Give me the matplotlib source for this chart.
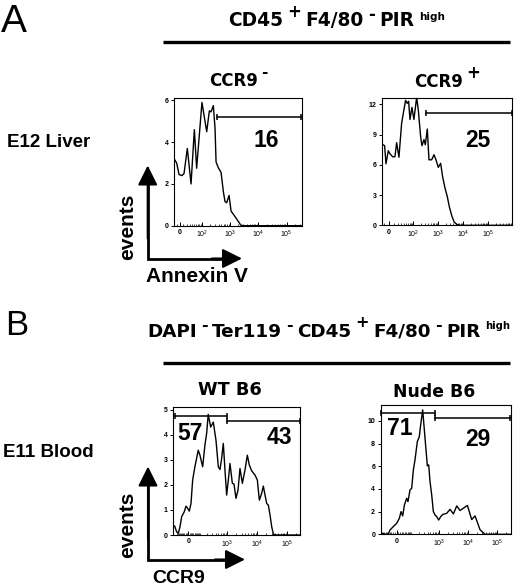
import matplotlib
matplotlib.use("Agg")
import matplotlib.pyplot as plt
from matplotlib.ticker import NullFormatter

plt.rcParams['font.family'] = ['Liberation Sans', 'DejaVu Sans']
plt.rcParams['mathtext.fontset'] = 'custom'
plt.rcParams['mathtext.rm'] = 'Liberation Sans'
plt.rcParams['mathtext.it'] = 'Liberation Sans'
plt.rcParams['mathtext.bf'] = 'Liberation Sans:bold'

# ---- histogram traces (fluorescence value, events) ----
# A: E12 liver, Annexin V, CCR9-
ccr9neg_x = [-17, -9.6, -2.8, 5.7, 11.6, 22, 35.7, 50.6, 63, 101, 151, 188, 216, 261, 300,
             326, 394, 490, 592, 677, 776, 938, 1105, 1410, 1850, 2420, 3010, 343000]
ccr9neg_y = [3.2, 3.0, 2.45, 2.4, 2.5, 3.7, 2.0, 4.6, 2.75, 5.9, 4.5, 5.5, 5.45, 5.75, 4.65,
             3.05, 2.77, 2.55, 1.62, 1.15, 1.1, 1.45, 0.7, 0.5, 0.27, 0.03, 0, 0]

# A: E12 liver, Annexin V, CCR9+
ccr9pos_x = [-13, -8.8, -6.0, -1.3, 2.0, 7.4, 12.5, 16.5, 22.7, 31.1, 37.4, 47.3, 56, 64, 73,
             88, 106, 137, 160, 198, 224, 270, 305, 367, 428, 548, 680, 815, 1010, 1253,
             1508, 1868, 2314, 2782, 3449, 4276, 5470, 7440, 918000]
ccr9pos_y = [8.0, 7.9, 6.1, 7.4, 7.1, 6.8, 6.8, 8.2, 6.75, 10.1, 11.1, 12.4, 12.1, 12.3, 10.5,
             11.7, 10.5, 12.7, 11.4, 8.8, 7.9, 8.5, 8.0, 9.55, 6.5, 6.5, 7.0, 6.5, 5.75, 6.15,
             4.8, 3.7, 2.85, 1.85, 1.0, 0.35, 0.1, 0, 0]

# B: E11 blood, CCR9, WT B6
wt_x = [-142, -125, -102, -84, -68, -53, -31, -18, -8, 8, 21, 34, 53, 68, 84, 102, 134,
        165, 192, 220, 269, 333, 412, 495, 564, 642, 730, 831, 945, 1075, 1222, 1465,
        1664, 1940, 2265, 2635, 3160, 3870, 4630, 5390, 6460, 8340, 9980, 11640, 13900,
        15800, 18000, 20400, 23200, 26400, 30000, 34100, 38800, 263000]
wt_y = [0.33, 0.36, 0.13, 0.07, 0.33, 0.73, 0.93, 1.15, 1.09, 0.95, 1.26, 2.19, 2.72, 3.05,
        3.38, 3.18, 2.72, 3.58, 4.05, 4.81, 4.3, 4.5, 3.78, 2.72, 2.61, 3.05, 3.65, 2.59,
        1.59, 2.19, 2.85, 2.06, 2.03, 1.46, 1.79, 2.65, 2.06, 2.59, 3.18, 2.79, 2.56, 2.39,
        2.19, 1.39, 1.66, 1.95, 1.59, 1.26, 1.19, 0.8, 0.33, 0.04, 0, 0]

# B: E11 blood, CCR9, Nude B6
nude_x = [-115, -89, -67, -50, -39, -19, 0, 15, 25, 35, 46, 62, 72, 89, 105, 123, 142, 174,
          205, 230, 271, 310, 355, 395, 440, 489, 559, 638, 728, 830, 973, 1140, 1335, 1830,
          2380, 3100, 4030, 5240, 6810, 9340, 13130, 17100, 25350, 37600, 284000]
nude_y = [0.09, 0.03, 0, 0.03, 0.38, 0.68, 0.97, 1.41, 2.0, 1.62, 2.59, 3.18, 2.88, 3.91,
          4.06, 5.68, 6.56, 8.18, 8.6, 9.65, 10.97, 9.2, 7.44, 6.03, 6.12, 4.65, 3.47, 2.0,
          1.71, 1.56, 1.26, 1.56, 1.75, 1.85, 2.2, 1.8, 2.5, 2.1, 2.3, 2.55, 1.3, 1.62, 0.4,
          0, 0]

# gate bars (start, end, height) and gate percentages
ccr9neg_gates = [(344, 330000, 5.2)]
ccr9pos_gates = [(325, 900000, 11.1)]
wt_gates = [(-125, 945, 4.73), (945, 255000, 4.55)]
nude_gates = [(-108, 728, 10.68), (728, 275000, 10.29)]
ccr9neg_pct = [('16', 20000, 4.1)]
ccr9pos_pct = [('25', 40000, 8.46)]
wt_pct = [('57', 13, 4.05), ('43', 54000, 3.89)]
nude_pct = [('71', 15, 9.35), ('29', 22200, 8.38)]

dec_ticks_a = [0, 1e2, 1e3, 1e4, 1e5]
dec_labels_a = ['0', '$10^2$', '$10^3$', '$10^4$', '$10^5$']
dec_ticks_b = [0, 1e3, 1e4, 1e5]
dec_labels_b = ['0', '$10^3$', '$10^4$', '$10^5$']

fig = plt.figure(figsize=(5.2, 5.86), dpi=100)
ov = fig.add_axes([0, 0, 1, 1])
ov.set_xlim(0, 520)
ov.set_ylim(586, 0)
ov.axis('off')


def hist_panel(rect, x, y, lin_w, xlim, ylim, yticks, xticks, xlabels, gates, pcts):
    ax = fig.add_axes(rect)
    ax.plot(x, y, color='k', lw=1.0)
    ax.set_xscale('asinh', linear_width=lin_w)
    ax.set_xlim(xlim)
    ax.set_ylim(ylim)
    ax.set_xticks(xticks)
    ax.set_xticklabels(xlabels)
    minor = [m * 10 ** e for e in range(1, 6) for m in range(1, 10)]
    minor = [v for v in minor + [-v for v in minor]
             if xlim[0] < v < xlim[1] and v not in xticks]
    ax.set_xticks(minor, minor=True)
    ax.xaxis.set_minor_formatter(NullFormatter())
    ax.set_yticks(yticks)
    ax.tick_params(axis='x', which='major', direction='in', length=3, width=0.7,
                   labelsize=5, pad=2.5)
    ax.tick_params(axis='x', which='minor', direction='in', length=1.5, width=0.5)
    ax.tick_params(axis='y', direction='out', length=2.5, width=0.7, labelsize=5, pad=1.5)
    for lab in ax.get_xticklabels() + ax.get_yticklabels():
        lab.set_fontweight('bold')
    for sp in ax.spines.values():
        sp.set_linewidth(0.8)
    for x0, x1, gy in gates:
        ax.plot([x0, x1], [gy, gy], color='k', lw=1.1, marker='|', ms=4.5, mew=1.1,
                clip_on=False)
    for s, px, py in pcts:
        ax.text(px, py, s, fontsize=16.5, fontweight='bold', ha='center', va='center')
    return ax


hist_panel([174 / 520, 1 - 225.7 / 586, 127.7 / 520, 127.4 / 586], ccr9neg_x, ccr9neg_y,
           35, (-17.8, 343000), (0, 6.1), [0, 2, 4, 6], dec_ticks_a, dec_labels_a,
           ccr9neg_gates, ccr9neg_pct)
hist_panel([382.3 / 520, 1 - 225.3 / 586, 130 / 520, 127.3 / 586], ccr9pos_x, ccr9pos_y,
           21.5, (-14, 918000), (0, 12.63), [0, 3, 6, 9, 12], dec_ticks_a, dec_labels_a,
           ccr9pos_gates, ccr9pos_pct)
hist_panel([173.3 / 520, 1 - 535 / 586, 126.7 / 520, 127.7 / 586], wt_x, wt_y,
           100, (-142, 263000), (0, 5.09), [0, 1, 2, 3, 4, 5], dec_ticks_b, dec_labels_b,
           wt_gates, wt_pct)
hist_panel([380.7 / 520, 1 - 534.3 / 586, 130 / 520, 129.3 / 586], nude_x, nude_y,
           71, (-115, 284000), (0, 11.4), [0, 2, 4, 6, 8, 10], dec_ticks_b, dec_labels_b,
           nude_gates, nude_pct)

renderer = fig.canvas.get_renderer()


def rich(parts, x, y, center=False, gap=4.0):
    # parts: (text, size, rise in px); laid out left to right on a shared baseline
    texts = []
    for s, size, rise in parts:
        t = ov.text(0, y - rise, s, fontsize=size, fontweight='bold',
                    family='DejaVu Sans', ha='left', va='baseline')
        texts.append((t, t.get_window_extent(renderer).width))
    total = sum(w for _, w in texts) + gap * (len(texts) - 1)
    cur = x - total / 2 if center else x
    for t, w in texts:
        t.set_x(cur)
        cur += w + gap


# panel letters, headers and bars
ov.text(1, 32, 'A', fontsize=28, ha='left', va='baseline')
ov.text(5, 335, 'B', fontsize=25, ha='left', va='baseline')
rich([('CD45', 13.4, 0), ('+', 12, 9), ('F4/80', 13.4, 0), ('-', 12, 6),
      ('PIR', 13.4, 0), ('high', 7.5, 6)], 228, 26, gap=4.4)
rich([('DAPI', 13.2, 0), ('-', 11.5, 7), ('Ter119', 13.2, 0), ('-', 11.5, 7),
      ('CD45', 13.2, 0), ('+', 11.5, 10), ('F4/80', 13.2, 0), ('-', 11.5, 7),
      ('PIR', 13.2, 0), ('high', 7.2, 7.5)], 147, 336.7, gap=4.3)
ov.plot([163, 510], [42.3, 42.3], color='k', lw=2.4, solid_capstyle='butt')
ov.plot([163, 510], [363.3, 363.3], color='k', lw=2.4, solid_capstyle='butt')

# column titles
rich([('CCR9', 12, 0), ('-', 11, 9)], 238, 86.5, center=True, gap=3)
rich([('CCR9', 12, 0), ('+', 12, 9)], 447, 86.7, center=True, gap=3)
ov.text(230, 395, 'WT B6', fontsize=12.8, fontweight='bold', family='DejaVu Sans',
        ha='center', va='baseline')
ov.text(434, 397, 'Nude B6', fontsize=12.4, fontweight='bold', family='DejaVu Sans',
        ha='center', va='baseline')

# row labels
ov.text(7, 147, 'E12 Liver', fontsize=13.5, fontweight='bold', ha='left', va='baseline')
ov.text(3, 457, 'E11 Blood', fontsize=13.5, fontweight='bold', ha='left', va='baseline')


def axis_arrows(cx, cy, top, right, xlab, xlab_x, xlab_y, xlab_size, ev_y):
    ov.plot([cx, cx, right - 12], [top + 12, cy, cy], color='k', lw=2,
            solid_joinstyle='miter', solid_capstyle='butt')
    style = dict(arrowstyle='-|>,head_length=1.2,head_width=0.6', lw=1.5, color='k',
                 mutation_scale=10, shrinkA=0, shrinkB=0)
    ov.annotate('', xy=(cx, top), xytext=(cx, cy - 20), arrowprops=style)
    ov.annotate('', xy=(right, cy), xytext=(right - 30, cy), arrowprops=style)
    ov.text(cx - 20, ev_y, 'events', rotation=90, fontsize=15, fontweight='bold',
            ha='center', va='center')
    ov.text(xlab_x, xlab_y, xlab, fontsize=xlab_size, fontweight='bold',
            ha='left', va='baseline')


axis_arrows(147.7, 258.5, 165.5, 242, 'Annexin V', 146.5, 281.7, 15, 226.7)
axis_arrows(148, 559.5, 466.5, 245, 'CCR9', 152, 583, 14, 525)

fig.savefig('out.png', dpi=100)
